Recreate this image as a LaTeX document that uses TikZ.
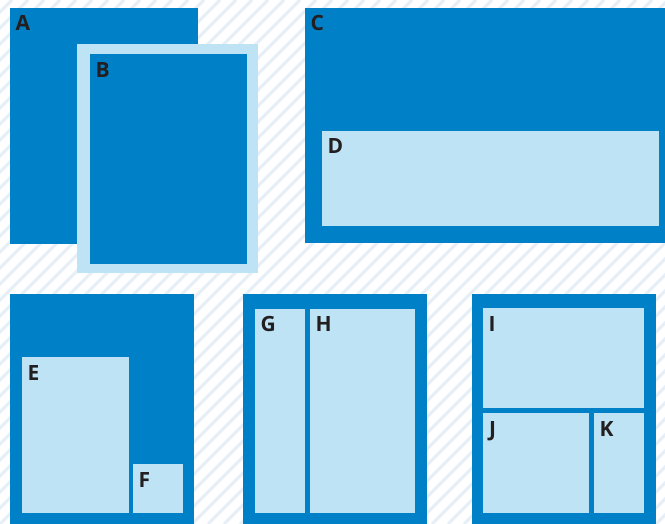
\documentclass[tikz,border=0pt]{standalone}
\usepackage{fontspec}
\setsansfont{Open Sans}
\definecolor{dblue}{HTML}{0080C6}
\definecolor{lblue}{HTML}{BEE3F5}
\definecolor{stripecol}{HTML}{E6EFF8}
\definecolor{ink}{HTML}{231F20}
\begin{document}
\begin{tikzpicture}[x=1pt,y=-1pt,
  lbl/.style={anchor=base west, inner sep=0pt, font=\sffamily\bfseries\fontsize{21}{21}\selectfont, text=ink},
  darkbox/.style={fill=dblue},
  lightbox/.style={fill=lblue}]
\useasboundingbox (0,0) rectangle (665,524);
\fill[white] (0,0) rectangle (665,524);
\begin{scope}
\clip (0,0) rectangle (665,524);
\foreach \i in {-34,...,42} { \draw[stripecol, line width=3pt] (\i*16,524) -- (\i*16+524,0); }
\end{scope}
% A and B
\path[darkbox] (10,8) rectangle (198,244);
\path[lightbox] (77,44) rectangle (258,273);
\path[darkbox] (90,54) rectangle (247,264);
% C and D
\path[darkbox] (305,8) rectangle (665,243);
\path[lightbox] (322,131) rectangle (659,226);
% E F
\path[darkbox] (10,294) rectangle (194,524);
\path[lightbox] (22,357) rectangle (129,513);
\path[lightbox] (133,464) rectangle (183,513);
% G H
\path[darkbox] (243,294) rectangle (427,524);
\path[lightbox] (255,309) rectangle (305,513);
\path[lightbox] (310,309) rectangle (415,513);
% I J K
\path[darkbox] (472,294) rectangle (656,524);
\path[lightbox] (483,308) rectangle (644,408);
\path[lightbox] (483,413) rectangle (589,513);
\path[lightbox] (594,413) rectangle (644,513);
% labels
\node[lbl] (la) at (15.5,30.7) {A};
\node[lbl] (lb) at (95.5,77.5) {B};
\node[lbl] (lc) at (310.5,30.7) {C};
\node[lbl] (ld) at (327.5,153.7) {D};
\node[lbl] (le) at (27.5,380) {E};
\node[lbl] (lf) at (138.5,487) {F};
\node[lbl] (lg) at (260.5,331.5) {G};
\node[lbl] (lh) at (315.5,331.5) {H};
\node[lbl] (li) at (488.5,331) {I};
\node[lbl] (lj) at (489,436.5) {J};
\node[lbl] (lk) at (599.5,436.5) {K};
\end{tikzpicture}
\end{document}
